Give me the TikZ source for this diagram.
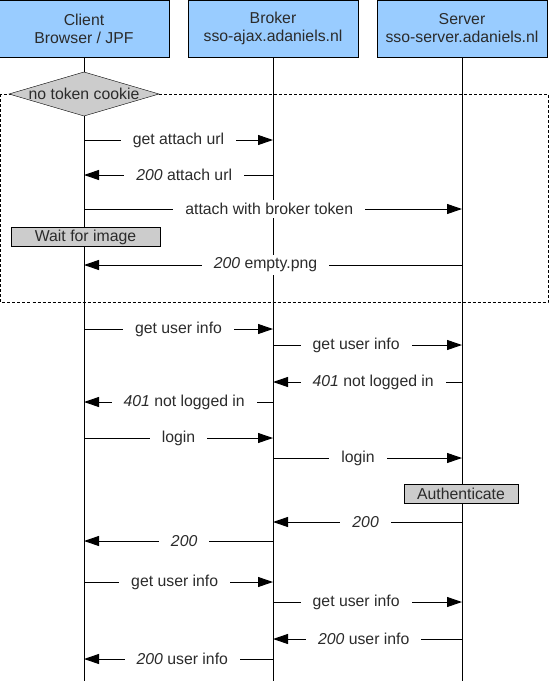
\documentclass[tikz,border=0pt]{standalone}
\usepackage{fontspec}
\setmainfont{Liberation Sans}
\usetikzlibrary{arrows.meta}
\definecolor{actorblue}{HTML}{99CCFF}
\definecolor{notegray}{HTML}{CCCCCC}
\definecolor{textgray}{HTML}{2B2B2B}

\begin{document}
\begin{tikzpicture}[x=1pt, y=-1pt,
    font=\fontsize{15.8}{18}\selectfont, text=textgray,
    actor/.style={draw, fill=actorblue, minimum width=170, minimum height=57, align=center, inner sep=0},
    msg/.style={-{Triangle[length=15pt, width=10pt]}, line width=1pt},
    lbl/.style={fill=white, inner xsep=12pt, inner ysep=3pt},
    note/.style={draw, fill=notegray, inner sep=0, minimum height=19}]
  \useasboundingbox (0,0) rectangle (549,681);

  % actors
  \node[actor] (client) at (84,28.5) {Client\\Browser / JPF};
  \node[actor] (broker) at (273,28.5) {Broker\\sso-ajax.adaniels.nl};
  \node[actor] (server) at (462,28.5) {Server\\sso-server.adaniels.nl};

  % lifelines
  \draw (client) -- (client |- 0,681);
  \draw (broker) -- (broker |- 0,681);
  \draw (server) -- (server |- 0,681);

  % no token cookie
  \draw[dash pattern=on 3pt off 2pt] (0.5,94) rectangle (548,302);
  \draw[fill=notegray] (9,94) -- (84,72) -- (159,94) -- (84,116) -- cycle;
  \node (cookie) at (84,94) {no token cookie};

  \draw[msg] (client |- 0,140) -- node[lbl] {get attach url} (broker |- 0,140);
  \draw[msg] (broker |- 0,175) -- node[lbl, pos=.47] {\textit{200} attach url} (client |- 0,175);
  \draw[msg] (client |- 0,209) -- node[lbl, pos=.49] {attach with broker token} (server |- 0,209);
  \node[note, minimum width=149] (wait) at (85.5,237) {Wait for image};
  \draw[msg] (server |- 0,265) -- node[lbl, pos=.52] {\textit{200} empty.png} (client |- 0,265);

  % get user info
  \draw[msg] (client |- 0,329) -- node[lbl] {get user info} (broker |- 0,329);
  \draw[msg] (broker |- 0,345) -- node[lbl, pos=.44] {get user info} (server |- 0,345);
  \draw[msg] (server |- 0,382) -- node[lbl, pos=.47] {\textit{401} not logged in} (broker |- 0,382);
  \draw[msg] (broker |- 0,402) -- node[lbl, pos=.47] {\textit{401} not logged in} (client |- 0,402);

  % login
  \draw[msg] (client |- 0,438) -- node[lbl] {login} (broker |- 0,438);
  \draw[msg] (broker |- 0,458) -- node[lbl, pos=.45] {login} (server |- 0,458);
  \node[note, minimum width=114] (auth) at (461,493.5) {Authenticate};
  \draw[msg] (server |- 0,522) -- node[lbl, pos=.51] {\textit{200}} (broker |- 0,522);
  \draw[msg] (broker |- 0,541) -- node[lbl, pos=.47] {\textit{200}} (client |- 0,541);

  % get user info again
  \draw[msg] (client |- 0,582) -- node[lbl, pos=.48] {get user info} (broker |- 0,582);
  \draw[msg] (broker |- 0,602) -- node[lbl, pos=.44] {get user info} (server |- 0,602);
  \draw[msg] (server |- 0,639) -- node[lbl, pos=.52] {\textit{200} user info} (broker |- 0,639);
  \draw[msg] (broker |- 0,659) -- node[lbl, pos=.48] {\textit{200} user info} (client |- 0,659);
\end{tikzpicture}
\end{document}
